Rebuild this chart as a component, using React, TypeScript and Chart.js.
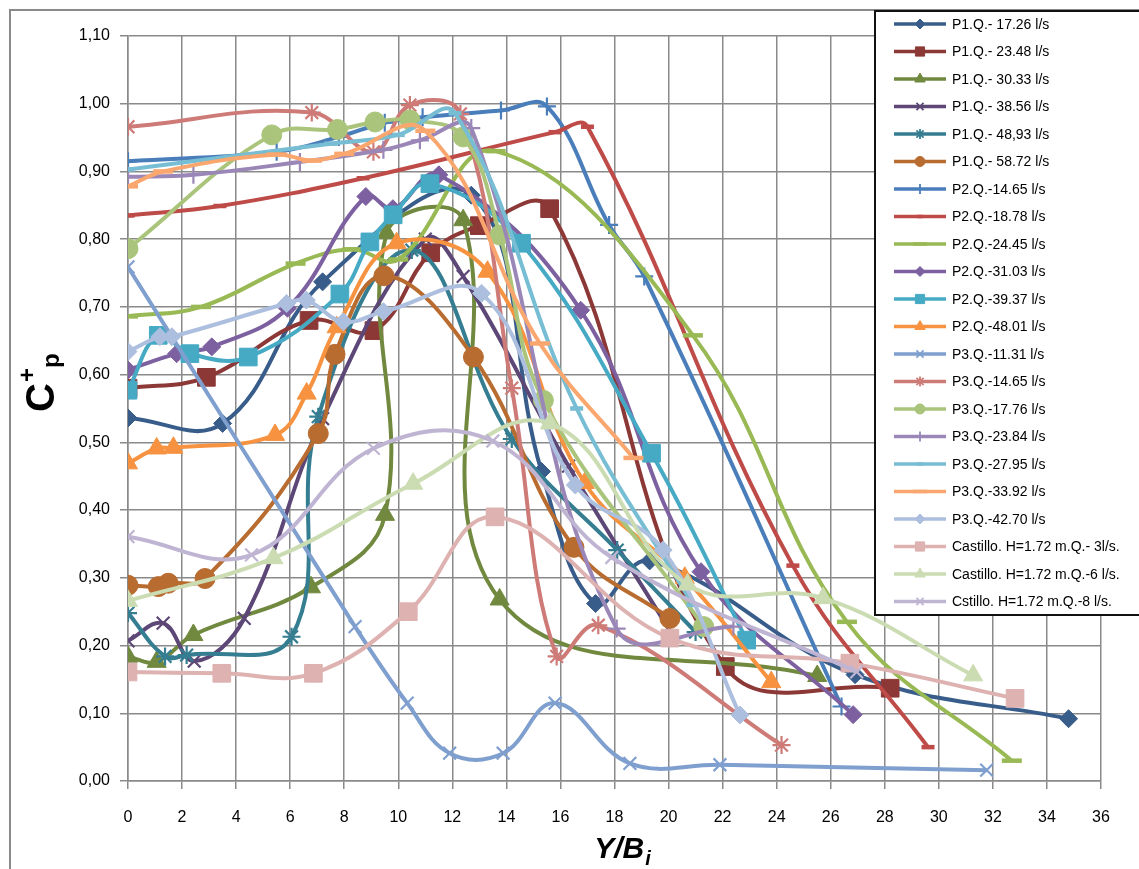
import React, { useEffect, useRef } from 'react';
import { Chart, registerables } from 'chart.js';
import { drawPoint } from 'chart.js/helpers';

Chart.register(...registerables);

type Pt = [number, number];

// ---- data (x = Y/Bi, y = C+p) ----
const p1q1726: Pt[] = [[0, 0.536], [3.5, 0.528], [7.2, 0.737], [12.7, 0.865], [15.3, 0.457], [17.3, 0.262], [19.3, 0.325], [26.9, 0.157], [34.8, 0.092]];
const p1q2348: Pt[] = [[0, 0.58], [2.9, 0.596], [6.7, 0.68], [9.1, 0.665], [11.2, 0.78], [13.0, 0.82], [15.6, 0.845], [22.1, 0.169], [28.2, 0.137]];
const p1q3033: Pt[] = [[0, 0.1835], [1.06, 0.176], [2.42, 0.2156], [6.77, 0.286], [9.51, 0.393], [9.57, 0.809], [12.4, 0.828], [13.75, 0.268], [25.5, 0.155]];
const p1q3856: Pt[] = [[0, 0.207], [1.3, 0.233], [2.45, 0.177], [4.3, 0.24], [7.2, 0.535], [11.0, 0.8], [12.4, 0.745], [16.3, 0.465], [20.0, 0.225]];
const p1q4893: Pt[] = [[0, 0.248], [1.37, 0.184], [2.17, 0.186], [6.05, 0.213], [7.04, 0.538], [10.5, 0.784], [14.2, 0.505], [18.1, 0.341], [21.0, 0.22]];
const p1q5872: Pt[] = [[0, 0.289], [1.12, 0.287], [1.49, 0.292], [2.85, 0.299], [7.04, 0.513], [7.66, 0.63], [9.47, 0.746], [12.78, 0.626], [16.5, 0.345], [20.05, 0.24]];
const p2q1465: Pt[] = [[0, 0.915], [5.5, 0.929], [7.8, 0.951], [9.5, 0.972], [10.9, 0.98], [13.8, 0.99], [15.5, 0.996], [17.8, 0.821], [19.1, 0.745], [26.4, 0.11]];
const p2q1878: Pt[] = [[0, 0.835], [3.4, 0.849], [8.7, 0.89], [15.8, 0.958], [17.0, 0.966], [24.6, 0.318], [29.6, 0.05]];
const p2q2445: Pt[] = [[0, 0.686], [2.7, 0.7], [6.2, 0.764], [8.3, 0.785], [10.0, 0.77], [13.6, 0.93], [20.9, 0.658], [26.6, 0.235], [32.7, 0.03]];
const p2q3103: Pt[] = [[0, 0.607], [1.8, 0.631], [3.1, 0.641], [5.9, 0.698], [8.8, 0.863], [9.8, 0.845], [11.5, 0.895], [16.75, 0.695], [21.2, 0.309], [26.83, 0.098]];
const p2q3937: Pt[] = [[0, 0.577], [1.12, 0.658], [2.29, 0.631], [4.45, 0.626], [7.84, 0.719], [8.95, 0.796], [9.81, 0.836], [11.17, 0.882], [14.56, 0.794], [19.37, 0.484], [22.89, 0.208]];
const p2q4801: Pt[] = [[0, 0.469], [1.06, 0.491], [1.68, 0.492], [5.44, 0.511], [6.61, 0.572], [7.72, 0.67], [9.94, 0.794], [13.3, 0.752], [16.9, 0.44], [20.6, 0.3], [23.8, 0.146]];
const p3q1131: Pt[] = [[0, 0.759], [8.4, 0.228], [10.33, 0.115], [11.9, 0.041], [13.88, 0.041], [15.8, 0.115], [18.57, 0.026], [21.9, 0.024], [31.77, 0.016]];
const p3q1465: Pt[] = [[0, 0.966], [6.8, 0.987], [9.08, 0.929], [10.43, 0.998], [12.3, 0.985], [14.2, 0.58], [15.86, 0.184], [17.4, 0.23], [24.18, 0.053]];
const p3q1776: Pt[] = [[0, 0.786], [5.32, 0.954], [7.75, 0.962], [9.14, 0.973], [10.43, 0.976], [12.4, 0.951], [13.76, 0.806], [15.37, 0.562], [21.3, 0.228]];
const p3q2384: Pt[] = [[0, 0.892], [2.42, 0.895], [6.36, 0.914], [9.45, 0.932], [10.8, 0.946], [12.7, 0.964], [18.08, 0.225], [22.4, 0.228]];
const p3q2795: Pt[] = [[0, 0.903], [7.5, 0.941], [10.0, 0.954], [12.1, 0.986], [16.6, 0.55], [20.9, 0.26]];
const p3q3392: Pt[] = [[0, 0.878], [1.3, 0.9], [5.5, 0.925], [6.8, 0.916], [8.0, 0.926], [11.0, 0.96], [15.24, 0.646], [18.7, 0.477]];
const p3q4270: Pt[] = [[0, 0.634], [1.18, 0.656], [1.62, 0.656], [5.87, 0.705], [6.6, 0.71], [7.97, 0.678], [9.45, 0.693], [13.08, 0.72], [16.55, 0.437], [19.8, 0.341], [22.64, 0.0975]];
const castillo3: Pt[] = [[0, 0.161], [3.47, 0.159], [6.86, 0.159], [10.37, 0.25], [13.58, 0.39], [20.05, 0.211], [26.71, 0.174], [32.82, 0.122]];
const castillo6: Pt[] = [[0, 0.266], [5.38, 0.329], [10.55, 0.439], [15.61, 0.528], [20.7, 0.29], [25.72, 0.27], [31.27, 0.156]];
const castillo8: Pt[] = [[0, 0.3607], [4.57, 0.334], [9.08, 0.491], [13.5, 0.502], [17.9, 0.33], [26.96, 0.161]];

const seriesLabels = [
  'P1.Q.- 17.26 l/s', 'P1.Q.- 23.48 l/s', 'P1.Q.- 30.33 l/s', 'P1.Q.- 38.56 l/s', 'P1.Q.- 48,93 l/s', 'P1.Q.- 58.72 l/s',
  'P2.Q.-14.65 l/s', 'P2.Q.-18.78 l/s', 'P2.Q.-24.45 l/s', 'P2.Q.-31.03 l/s', 'P2.Q.-39.37 l/s', 'P2.Q.-48.01 l/s',
  'P3.Q.-11.31 l/s', 'P3.Q.-14.65 l/s', 'P3.Q.-17.76 l/s', 'P3.Q.-23.84 l/s', 'P3.Q.-27.95 l/s', 'P3.Q.-33.92 l/s', 'P3.Q.-42.70 l/s',
  'Castillo. H=1.72 m.Q.- 3l/s.', 'Castillo. H=1.72 m.Q.-6 l/s.', 'Cstillo. H=1.72 m.Q.-8 l/s.',
];
const seriesData: Pt[][] = [
  p1q1726, p1q2348, p1q3033, p1q3856, p1q4893, p1q5872,
  p2q1465, p2q1878, p2q2445, p2q3103, p2q3937, p2q4801,
  p3q1131, p3q1465, p3q1776, p3q2384, p3q2795, p3q3392, p3q4270,
  castillo3, castillo6, castillo8,
];

// ---- styles ----
const colors = [
  '#385D8A', '#8C3836', '#71893F', '#5C4776', '#357D91', '#B96C30',
  '#4A7EBB', '#BE4B48', '#98B954', '#7D60A0', '#46AAC5', '#F69240',
  '#7F9FCF', '#CE7B78', '#AAC57B', '#9A87B8', '#77BDD3', '#F9A76E', '#ADBFDE',
  '#DDB2B1', '#CBDCB2', '#BFB5D3',
];
type Mk = 'diamond' | 'square' | 'triangle' | 'x' | 'star' | 'circle' | 'plus' | 'dash' | 'longdash';
const markerCycle: Mk[] = ['diamond', 'square', 'triangle', 'x', 'star', 'circle', 'plus', 'dash', 'longdash'];
const styleOf: Record<Mk, string> = {
  diamond: 'rectRot', square: 'rect', triangle: 'triangle', x: 'crossRot', star: 'star',
  circle: 'circle', plus: 'cross', dash: 'line', longdash: 'line',
};
const plotRadius: Record<Mk, number> = {
  diamond: 9, square: 12.5, triangle: 11, x: 9, star: 9, circle: 10, plus: 9, dash: 6.5, longdash: 10,
};
const legendRadius: Record<Mk, number> = {
  diamond: 5, square: 6.5, triangle: 6, x: 5, star: 5, circle: 5, plus: 5, dash: 3, longdash: 7,
};
const borderOf = (m: Mk) => (m === 'dash' || m === 'longdash' ? 4.5 : m === 'x' || m === 'star' || m === 'plus' ? 2.2 : 1);
const legendBorderOf = (m: Mk) => (m === 'dash' || m === 'longdash' ? 3.5 : m === 'x' || m === 'star' || m === 'plus' ? 1.8 : 1);

const FONT = '"Liberation Sans", Arial, sans-serif';
const fmt = (v: number) => (Math.round(v * 100) / 100).toFixed(2).replace('.', ',');

const chromePlugin = {
  id: 'chrome',
  afterDraw(chart: any) {
    const ctx: CanvasRenderingContext2D = chart.ctx;
    ctx.save();
    // outer frame
    ctx.strokeStyle = '#8a8a8a';
    ctx.lineWidth = 2;
    ctx.beginPath();
    ctx.moveTo(10, 869);
    ctx.lineTo(10, 10);
    ctx.lineTo(1139, 10);
    ctx.stroke();

    // legend box
    ctx.fillStyle = '#ffffff';
    ctx.fillRect(875, 11, 270, 604);
    ctx.strokeStyle = '#111';
    ctx.lineWidth = 2;
    ctx.strokeRect(875, 11, 280, 604);
    chart.data.datasets.forEach((ds: any, i: number) => {
      const mk = markerCycle[i % markerCycle.length];
      const y = 24 + i * 27.5;
      ctx.strokeStyle = ds.borderColor;
      ctx.lineWidth = 3.5;
      ctx.beginPath();
      ctx.moveTo(894, y);
      ctx.lineTo(946, y);
      ctx.stroke();
      ctx.fillStyle = ds.borderColor;
      ctx.strokeStyle = ds.borderColor;
      ctx.lineWidth = legendBorderOf(mk);
      drawPoint(ctx, { pointStyle: styleOf[mk], radius: legendRadius[mk], borderWidth: legendBorderOf(mk), rotation: 0 } as any, 920, y);
      ctx.fillStyle = '#000';
      ctx.font = `14px ${FONT}`;
      ctx.textBaseline = 'middle';
      ctx.textAlign = 'left';
      ctx.fillText(ds.label, 952, y + 1);
    });

    // y axis title C+p
    ctx.fillStyle = '#000';
    ctx.save();
    ctx.translate(54, 412);
    ctx.rotate(-Math.PI / 2);
    ctx.textBaseline = 'alphabetic';
    ctx.textAlign = 'left';
    ctx.font = `bold 40px ${FONT}`;
    ctx.fillText('C', 0, 0);
    const wC = ctx.measureText('C').width;
    ctx.font = `bold 24px ${FONT}`;
    ctx.fillText('+', wC + 1, -19);
    const wPlus = ctx.measureText('+').width;
    ctx.fillText('p', wC + wPlus + 1, 5);
    ctx.restore();

    // x axis title Y/Bi
    ctx.textBaseline = 'alphabetic';
    ctx.textAlign = 'left';
    ctx.font = `italic bold 30px ${FONT}`;
    const main = 'Y/B';
    const wMain = ctx.measureText(main).width;
    ctx.font = `italic bold 20px ${FONT}`;
    const wSub = ctx.measureText('i').width;
    const x0 = 622 - (wMain + wSub) / 2;
    ctx.font = `italic bold 30px ${FONT}`;
    ctx.fillText(main, x0, 858);
    ctx.font = `italic bold 20px ${FONT}`;
    ctx.fillText('i', x0 + wMain + 1, 865);
    ctx.restore();
  },
};

export default function App() {
  const ref = useRef<HTMLCanvasElement>(null);
  useEffect(() => {
    const canvas = ref.current!;
    const chart = new Chart(canvas, {
      type: 'line',
      data: {
        datasets: seriesData.map((d, i) => {
          const mk = markerCycle[i % markerCycle.length];
          return {
            label: seriesLabels[i],
            data: d.map(([x, y]) => ({ x, y })),
            borderColor: colors[i],
            backgroundColor: colors[i],
            pointBackgroundColor: colors[i],
            pointBorderColor: colors[i],
            pointStyle: styleOf[mk] as any,
            pointRadius: plotRadius[mk],
            pointBorderWidth: borderOf(mk),
            borderWidth: 4,
            tension: 0.4,
            fill: false,
            order: seriesData.length - i,
          };
        }),
      },
      options: {
        responsive: false,
        animation: false,
        events: [],
        layout: { padding: { left: 0, top: 36, right: 38, bottom: 0 } },
        plugins: { legend: { display: false }, tooltip: { enabled: false }, title: { display: false } },
        scales: {
          x: {
            type: 'linear',
            min: 0,
            max: 36,
            afterFit: (s: any) => { s.height = 88; },
            grid: { color: '#8a8a8a', lineWidth: 1.5, tickLength: 8, tickColor: '#8a8a8a' },
            border: { color: '#8a8a8a', width: 1.5 },
            ticks: { stepSize: 2, autoSkip: false, maxRotation: 0, padding: 19, color: '#000', font: { family: FONT, size: 16 } },
          },
          y: {
            type: 'linear',
            min: 0,
            max: 1.1,
            afterFit: (s: any) => { s.width = 128; },
            grid: { color: '#8a8a8a', lineWidth: 1.5, tickLength: 8, tickColor: '#8a8a8a' },
            border: { color: '#8a8a8a', width: 1.5 },
            ticks: { stepSize: 0.1, padding: 10, color: '#000', font: { family: FONT, size: 16 }, callback: (v: any) => fmt(Number(v)) },
          },
        },
      },
      plugins: [chromePlugin],
    });
    return () => chart.destroy();
  }, []);
  return (
    <div style={{ position: 'absolute', left: 0, top: 0, width: 1139, height: 869, background: '#fff' }}>
      <canvas ref={ref} width={1139} height={869} style={{ display: 'block' }} />
    </div>
  );
}
